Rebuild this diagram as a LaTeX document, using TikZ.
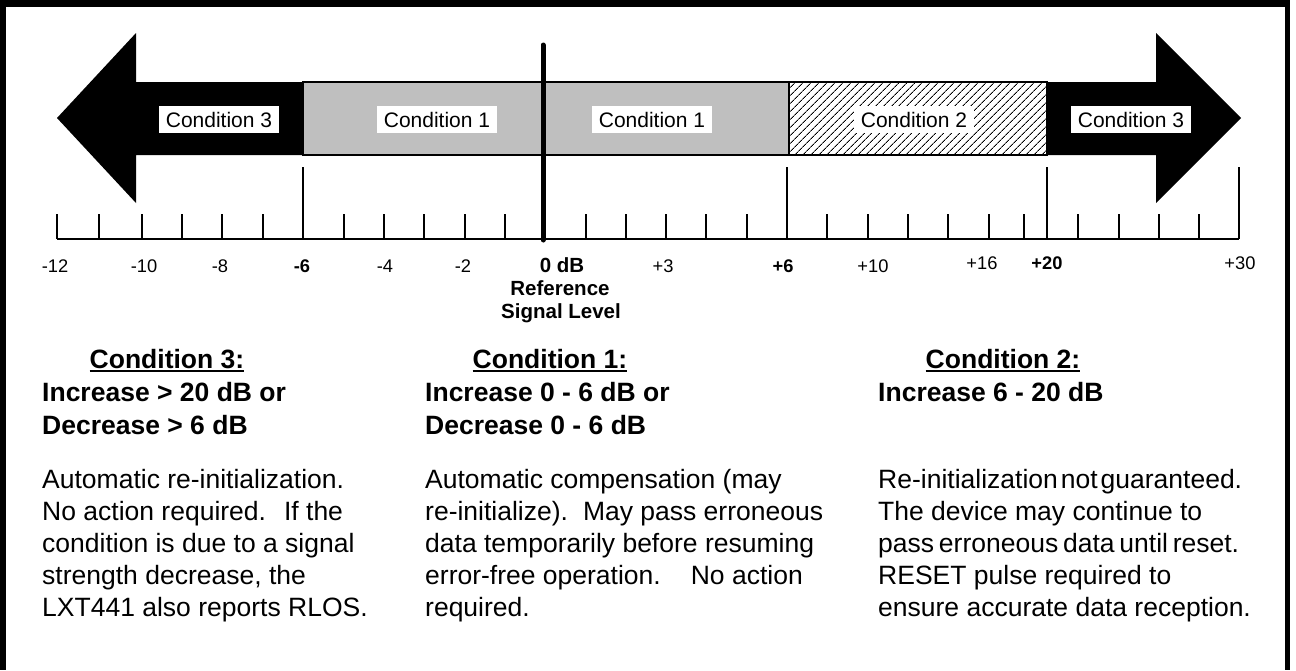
\documentclass[tikz,border=0pt]{standalone}
\usepackage{fontspec}
\setmainfont{Liberation Sans}
\usetikzlibrary{patterns.meta}
\begin{document}
\begin{tikzpicture}[x=1pt,y=-1pt,
  body/.style={anchor=base west,inner sep=0pt,font=\fontsize{26.5pt}{32pt}\selectfont},
  bhead/.style={anchor=base west,inner sep=0pt,font=\fontsize{26.5pt}{32pt}\selectfont\bfseries},
  title/.style={anchor=base,inner sep=0pt,font=\fontsize{26.5pt}{32pt}\selectfont\bfseries},
  lbl/.style={fill=white,inner sep=0pt,minimum width=120pt,minimum height=27pt,font=\fontsize{21pt}{25pt}\selectfont},
  num/.style={anchor=base,inner sep=0pt,font=\fontsize{18.3pt}{22pt}\selectfont},
  bnum/.style={anchor=base,inner sep=0pt,font=\fontsize{18.3pt}{22pt}\selectfont\bfseries},
  reflbl/.style={anchor=base,inner sep=0pt,font=\fontsize{20.5pt}{24pt}\selectfont\bfseries},
  tk/.style={line width=1.5pt},
  uline/.style={line width=2pt}]
\useasboundingbox (0,0) rectangle (1296,670);
% frame
\fill[black] (0,0) rectangle (1290,7);
\fill[black] (0,0) rectangle (5.5,670);
\fill[black] (1285,0) rectangle (1290,670);
% band regions
\fill[black!25] (303,82) rectangle (789,155);
\fill[white] (789,82) rectangle (1047,155);
\fill[pattern={Lines[angle=45,distance=5.4pt,line width=0.9pt]}] (789,82) rectangle (1047,155);
\draw[line width=1.8pt] (303,82) rectangle (789,155);
\draw[line width=1.8pt] (789,82) rectangle (1047,155);
% arrows
\fill[black] (57,118) -- (136,33) -- (136,82) -- (303,82) -- (303,155) -- (136,155) -- (136,203) -- cycle;
\fill[black] (1047,82) -- (1156,82) -- (1156,33) -- (1241,118) -- (1156,203) -- (1156,155) -- (1047,155) -- cycle;
% labels in band
\node[lbl] (b3l) at (219,119.5) {Condition 3};
\node[lbl] (b1l) at (437,119.5) {Condition 1};
\node[lbl] (b1r) at (652,119.5) {Condition 1};
\node[lbl] (b2) at (914,119.5) {Condition 2};
\node[lbl] (b3r) at (1131,119.5) {Condition 3};
% scale
\draw[line width=2pt] (57,239) -- (1239,239);
\foreach \x in {57,99,142,182,222,263,344,384,424,465,505,586,626,666,706,747,827,868,908,948,989,1024,1078,1119,1159,1199}
  \draw[tk] (\x,214) -- (\x,239);
\foreach \x in {303,787,1047,1239}
  \draw[tk] (\x,167) -- (\x,239);
\draw[line width=5pt,line cap=round] (543,45) -- (543,240);
% scale numbers
\node[num] (n1) at (55,272) {-12};
\node[num] (n2) at (144,272) {-10};
\node[num] (n3) at (220,272) {-8};
\node[bnum] (n4) at (302,272) {-6};
\node[num] (n5) at (385,272) {-4};
\node[num] (n6) at (463,272) {-2};
\node[num] (n7) at (663,272) {+3};
\node[bnum] (n8) at (783,272) {+6};
\node[num] (n9) at (873,272) {+10};
\node[num] (n10) at (982,269) {+16};
\node[bnum] (n11) at (1047,269) {+20};
\node[num] (n12) at (1240,269) {+30};
\node[reflbl] (z0) at (562,272) {0 dB};
\node[reflbl] (z1) at (560,295) {Reference};
\node[reflbl] (z2) at (561,318) {Signal Level};
% left column
\node[title] (h3) at (167,368) {Condition 3:};
\draw[uline] ([yshift=-2.5pt]h3.base west) -- ([yshift=-2.5pt]h3.base east);
\node[bhead] (l1) at (42,401.5) {Increase > 20 dB or};
\node[bhead] (l2) at (42,434) {Decrease > 6 dB};
\node[body] (l3) at (42,488) {Automatic re-initialization.};
\node[body] (l4) at (42,520) {No action required.\hspace{18pt}If the};
\node[body] (l5) at (42,552) {condition is due to a signal};
\node[body] (l6) at (42,584) {strength decrease, the};
\node[body] (l7) at (42,616) {LXT441 also reports RLOS.};
% middle column
\node[title] (h1) at (550,368) {Condition 1:};
\draw[uline] ([yshift=-2.5pt]h1.base west) -- ([yshift=-2.5pt]h1.base east);
\node[bhead] (m1) at (425,401.5) {Increase 0 - 6 dB or};
\node[bhead] (m2) at (425,434) {Decrease 0 - 6 dB};
\node[body] (m3) at (425,488) {Automatic compensation (may};
\node[body] (m4) at (425,520) {re-initialize).\hspace{15pt}May pass erroneous};
\node[body] (m5) at (425,552) {data temporarily before resuming};
\node[body] (m6) at (425,584) {error-free operation.\hspace{30pt}No action};
\node[body] (m7) at (425,616) {required.};
% right column
\node[title] (h2) at (1003,368) {Condition 2:};
\draw[uline] ([yshift=-2.5pt]h2.base west) -- ([yshift=-2.5pt]h2.base east);
\node[bhead] (r1) at (878,401.5) {Increase 6 - 20 dB};
\node[body] (r3) at (878,488) {Re-initialization\hspace{3pt}not\hspace{3pt}guaranteed.};
\node[body] (r4) at (878,520) {The device may continue to};
\node[body] (r5) at (878,552) {pass\hspace{4.8pt}erroneous\hspace{4.8pt}data\hspace{4.8pt}until\hspace{4.8pt}reset.};
\node[body] (r6) at (878,584) {RESET pulse required to};
\node[body] (r7) at (878,616) {ensure accurate data reception.};
\end{tikzpicture}
\end{document}
